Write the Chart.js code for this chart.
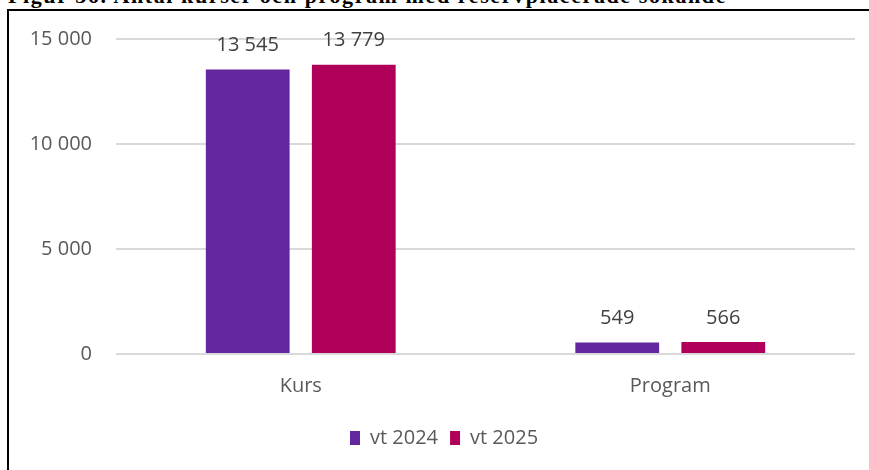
<!DOCTYPE html>
<html>
<head>
<meta charset="utf-8">
<script src="https://cdn.jsdelivr.net/npm/chart.js@4"></script>
<style>
  html, body { margin: 0; padding: 0; background: #fff; overflow: hidden; }
  #page { position: relative; width: 869px; height: 470px; overflow: hidden; }
  #rubrik {
    position: absolute; left: 8px; top: -15px; white-space: nowrap;
    font-family: "Liberation Serif", serif; font-weight: bold; font-size: 22px; line-height: 1;
    letter-spacing: 1.6px; color: #000;
  }
  #ram {
    position: absolute; left: 7px; top: 9px; width: 900px; height: 500px;
    border-left: 2px solid #000; border-top: 2px solid #000;
  }
  #wrap { position: absolute; left: 0; top: 0; width: 869px; height: 470px; }
</style>
</head>
<body>
<div id="page">
  <div id="rubrik">Figur 36. Antal kurser och program med reservplacerade sökande</div>
  <div id="ram"></div>
  <div id="wrap"><canvas id="chart"></canvas></div>
</div>
<script>
// antal kurser och program med reservplacerade sökande
const kategorier = ['Kurs', 'Program'];
const vt2024 = [13545, 549];
const vt2025 = [13779, 566];
const yTicks = [0, 5000, 10000, 15000];

const textFont = '"Open Sans", "Noto Sans", sans-serif';

// 13545 -> "13 545"
function formatNum(v) {
  return String(v).replace(/\B(?=(\d{3})+(?!\d))/g, ' ');
}

// draw the value above each bar
const valueLabels = {
  id: 'valueLabels',
  afterDatasetsDraw(chart) {
    const ctx = chart.ctx;
    ctx.save();
    ctx.font = '20px ' + textFont;
    ctx.fillStyle = '#404040';
    ctx.textAlign = 'center';
    ctx.textBaseline = 'middle';
    chart.data.datasets.forEach((ds, i) => {
      chart.getDatasetMeta(i).data.forEach((bar, j) => {
        ctx.fillText(formatNum(ds.data[j]), bar.x, bar.y - 24);
      });
    });
    ctx.restore();
  }
};

// legend sits a bit right of the plot's centre line
const legendShift = {
  id: 'legendShift',
  afterLayout(chart) {
    chart.legend.left = 338;
  }
};

const chart = new Chart(document.getElementById('chart'), {
  type: 'bar',
  data: {
    labels: kategorier,
    datasets: [
      { label: 'vt 2024', data: vt2024, backgroundColor: '#62269E' },
      { label: 'vt 2025', data: vt2025, backgroundColor: '#B0005A' }
    ]
  },
  options: {
    responsive: true,
    maintainAspectRatio: false,
    animation: false,
    categoryPercentage: 0.574,
    barPercentage: 0.79,
    layout: { padding: { top: 39, right: 14, left: 0, bottom: 12 } },
    plugins: {
      tooltip: { enabled: false },
      legend: {
        position: 'bottom',
        align: 'start',
        labels: {
          boxWidth: 10,
          boxHeight: 14,
          padding: 12,
          color: '#595959',
          font: { family: textFont, size: 20 }
        }
      }
    },
    scales: {
      x: {
        grid: { display: false },
        border: { display: false },
        ticks: { color: '#595959', padding: 12, font: { family: textFont, size: 20 } },
        afterFit(scale) { scale.height = 62; }
      },
      y: {
        min: 0,
        max: 15000,
        afterBuildTicks(scale) { scale.ticks = yTicks.map(v => ({ value: v })); },
        grid: { color: '#d9d9d9', lineWidth: 2, drawTicks: false },
        border: { display: false },
        ticks: {
          color: '#595959',
          padding: 24,
          font: { family: textFont, size: 20 },
          callback: v => formatNum(v)
        },
        afterFit(scale) { scale.width = 116; }
      }
    }
  },
  plugins: [valueLabels, legendShift]
});
</script>
</body>
</html>
